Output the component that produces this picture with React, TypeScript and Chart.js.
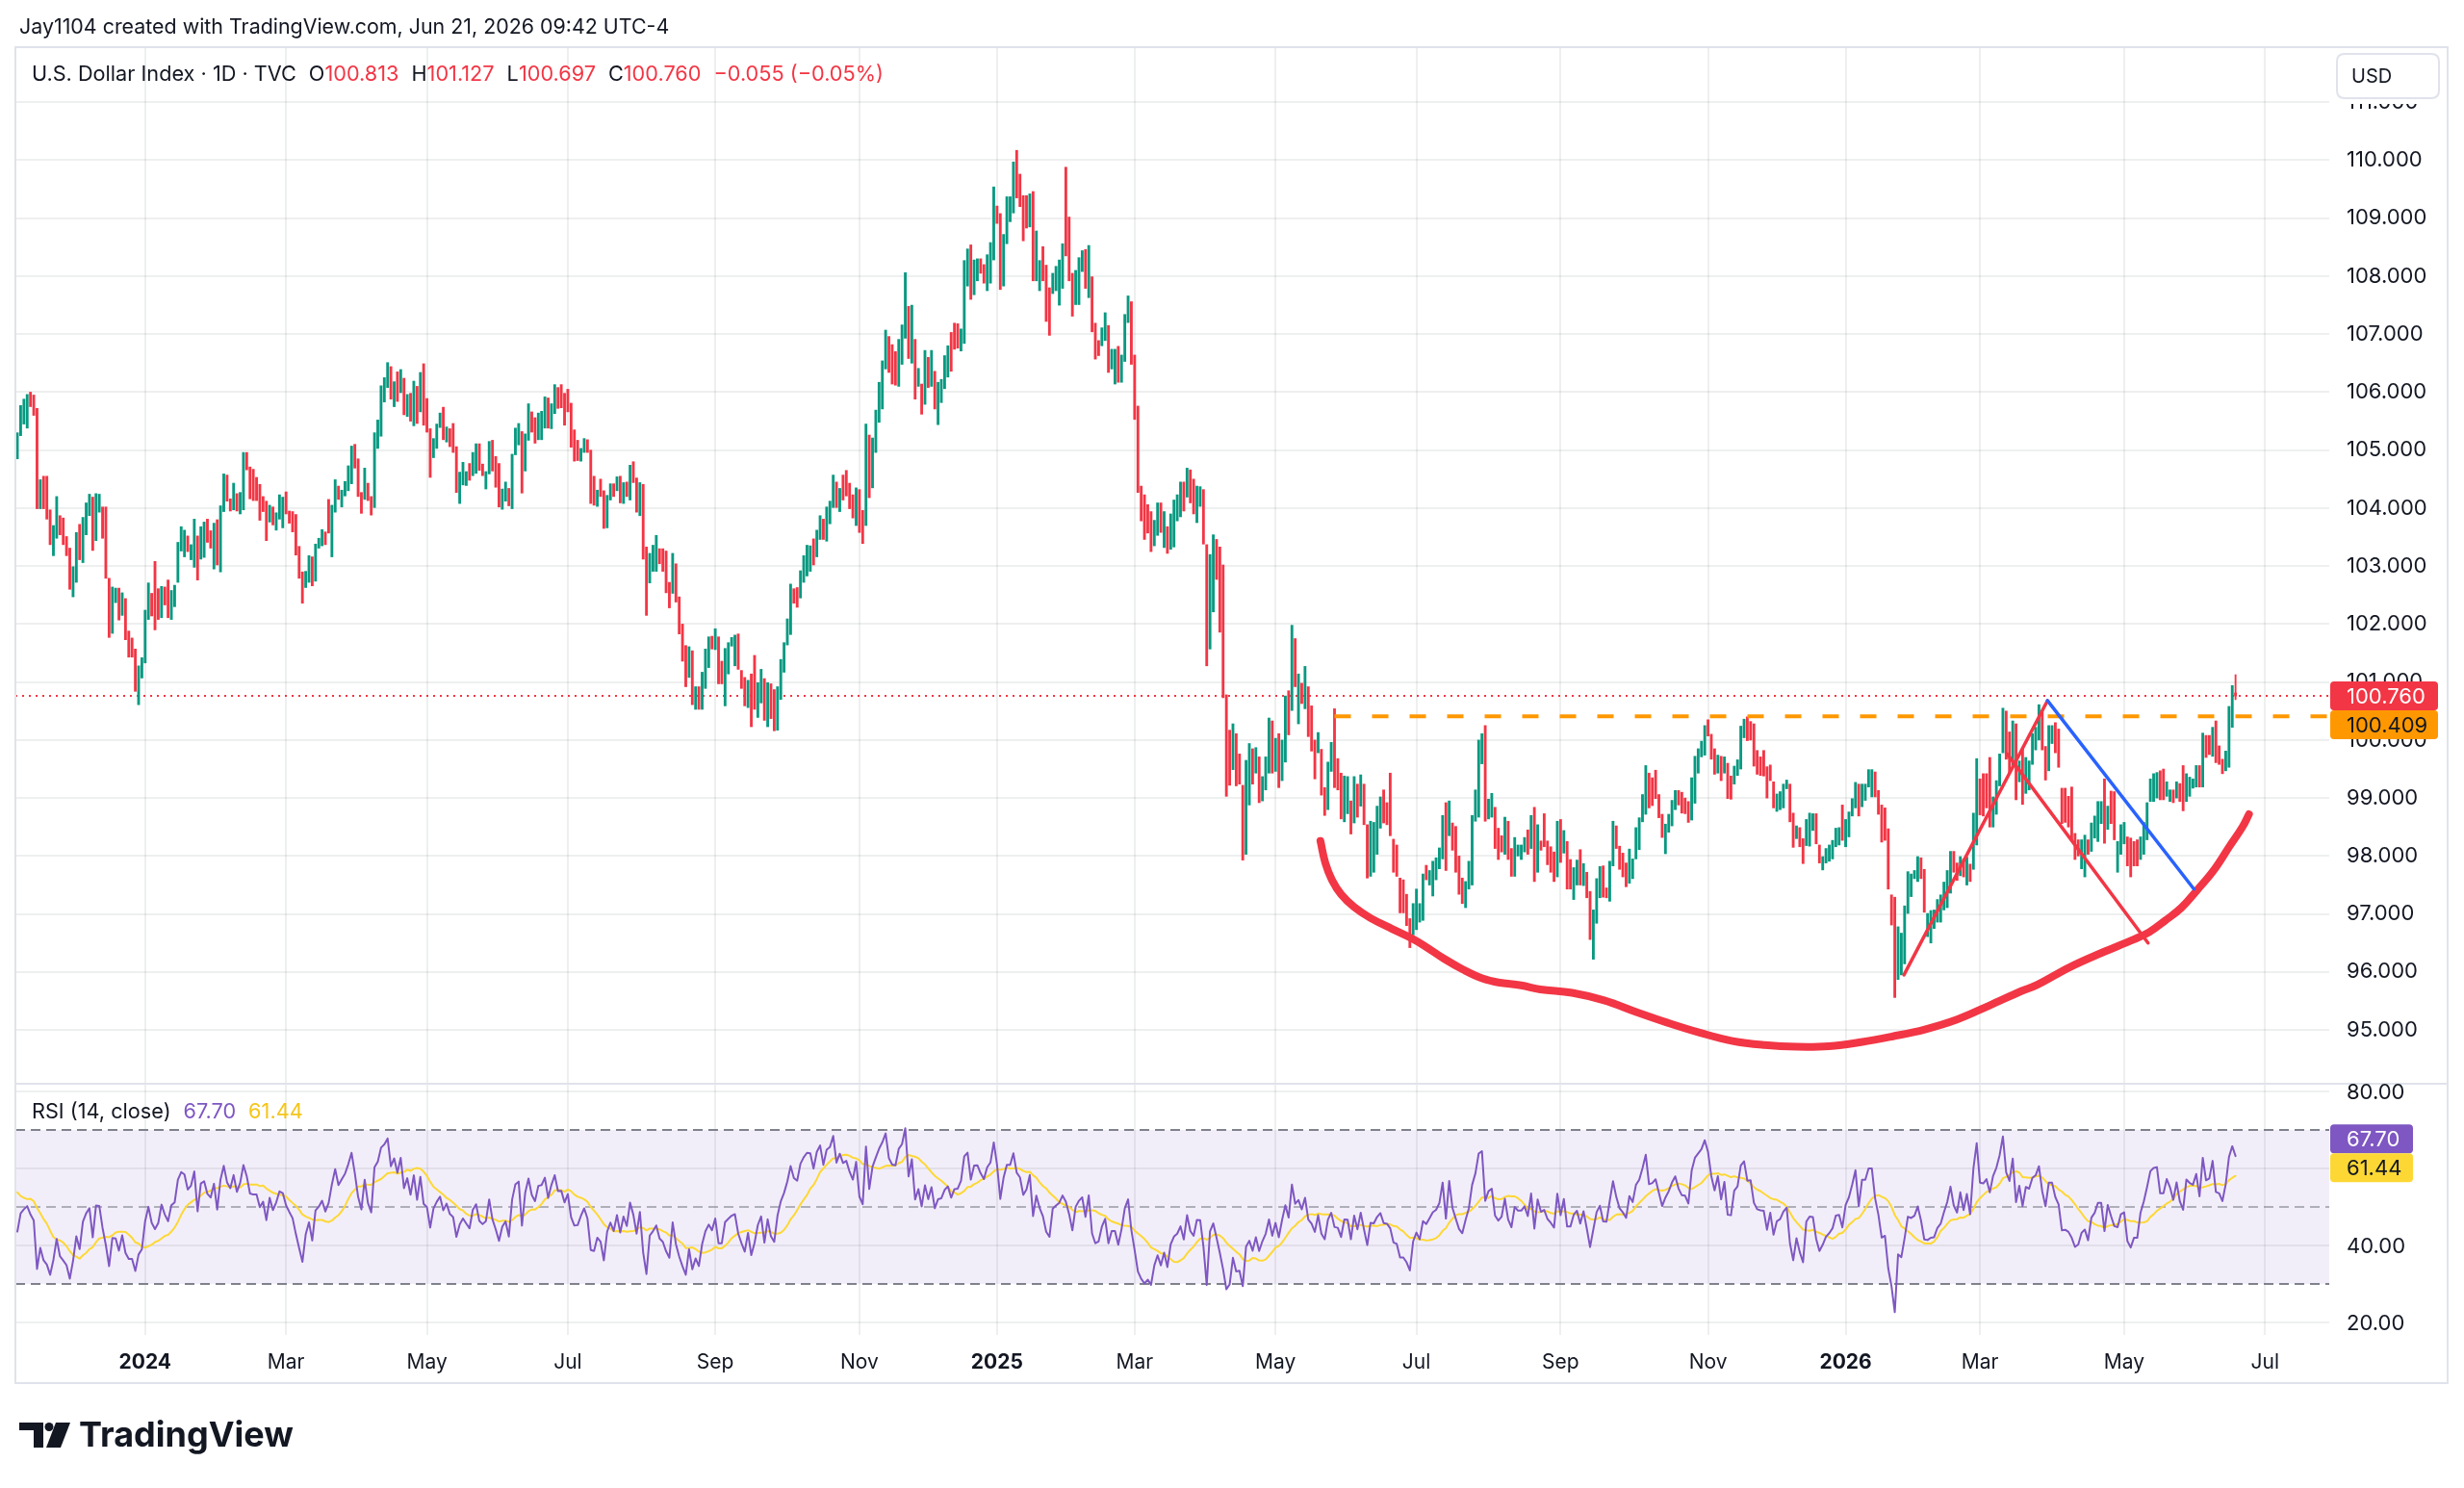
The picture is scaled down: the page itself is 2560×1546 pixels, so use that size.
import React, { useEffect, useRef } from "react";
import { Chart, registerables } from "chart.js";

Chart.register(...registerables);

// ---------- style ----------
const FONT = "Inter, 'Noto Sans', Arial, sans-serif";
const TEXT = "#131722";
const UP = "#089981";
const DOWN = "#F23645";
const ORANGE = "#FF9800";
const BLUE = "#2962FF";
const RSI_COLOR = "#7E57C2";
const RSI_MA_COLOR = "#FDD835";
const GRID = "rgba(42,46,57,0.08)";
const FRAME = "#E0E3EB";

// ---------- texts ----------
const HEADER = "Jay1104 created with TradingView.com, Jun 21, 2026 09:42 UTC-4";
const SYMBOL = "U.S. Dollar Index · 1D · TVC";
const CHANGE_TEXT = "−0.055 (−0.05%)";
const RSI_TITLE = "RSI (14, close)";
const CURRENCY = "USD";
const BRAND = "TradingView";

// ---------- calendar ----------
const START_DATE = "2023-11-06";
const HOLIDAYS = ["12-25", "01-01"];
const TICK_MONTHS = [0, 2, 4, 6, 8, 10];
const MONTH_NAMES = ["Jan", "Feb", "Mar", "Apr", "May", "Jun", "Jul", "Aug", "Sep", "Oct", "Nov", "Dec"];

// ---------- daily candles (open / close), Nov 6 2023 -> Jun 18 2026 ----------
const OPEN = [
  104.85,105.25,105.45,105.38,106.00,105.95,105.72,103.99,104.55,104.55,
  103.97,103.18,103.48,103.87,103.83,103.51,103.31,102.47,102.72,103.72,
  103.06,103.54,103.87,104.19,103.44,103.93,104.02,104.02,102.79,101.84,
  102.37,102.62,102.15,102.44,101.88,101.76,101.57,100.61,101.07,101.33,
  102.08,102.53,103.08,102.61,102.11,102.64,102.76,102.08,102.30,102.72,
  103.26,103.16,103.52,103.11,102.98,103.52,103.12,103.15,103.81,103.61,
  102.95,103.80,102.90,103.94,104.57,104.16,103.97,104.25,103.90,103.97,
  104.96,104.71,104.67,104.53,104.41,104.20,104.12,103.76,104.02,103.62,
  103.81,103.66,104.28,103.95,103.94,103.89,103.34,102.90,102.63,102.72,
  103.16,102.74,103.31,103.35,103.59,104.15,103.16,103.93,104.38,104.02,
  104.21,104.30,104.42,105.10,104.85,104.27,104.15,104.43,104.20,104.01,
  105.03,105.24,105.83,106.08,106.44,105.75,106.35,105.99,106.24,105.58,
  105.98,105.42,106.10,105.66,106.49,105.89,105.37,104.87,105.03,105.39,
  105.74,105.14,105.37,105.46,105.06,104.08,104.40,104.39,104.77,104.56,
  104.60,105.11,104.76,104.33,104.59,105.17,104.89,104.77,103.98,104.12,
  104.34,103.99,104.92,105.09,105.32,104.64,105.17,105.66,105.56,105.18,
  105.18,105.38,105.90,105.37,105.63,106.08,106.13,105.98,106.05,105.81,
  105.35,105.17,104.81,104.96,105.18,105.00,104.55,104.03,104.50,104.30,
  103.66,104.14,104.42,104.30,104.55,104.08,104.45,104.14,104.80,104.52,
  103.87,104.41,103.33,102.71,102.91,102.91,103.30,103.30,103.26,102.72,
  102.53,103.04,102.47,102.00,101.63,101.08,101.54,100.53,100.92,100.53,
  100.89,101.25,101.79,101.56,101.78,101.36,100.59,101.14,101.62,101.28,
  101.83,101.20,101.08,100.56,101.14,101.46,100.39,100.64,101.06,100.23,
  100.97,100.87,100.17,100.70,101.17,101.64,101.82,102.61,102.63,102.45,
  102.72,102.83,102.91,103.47,103.16,103.46,103.81,103.43,103.73,104.01,
  104.45,103.94,104.57,104.65,104.43,104.23,103.70,104.32,103.96,103.70,
  105.26,104.35,104.96,105.48,105.71,106.40,106.96,106.82,106.70,106.10,
  106.48,106.93,107.48,106.50,106.91,106.10,106.14,105.79,106.60,106.10,
  106.36,105.44,105.82,106.06,106.26,107.03,107.19,107.18,106.71,106.84,
  107.83,108.54,107.68,107.92,108.30,108.20,107.75,107.88,108.28,109.21,
  109.08,107.83,108.56,108.94,109.09,110.17,109.76,109.39,109.39,108.85,
  109.46,107.92,107.75,108.51,108.19,107.80,107.70,107.75,107.50,107.79,
  109.88,109.02,108.05,107.51,107.51,108.08,108.46,107.63,107.99,107.19,
  106.89,106.80,106.89,107.15,106.40,106.14,106.79,106.17,106.53,107.20,
  107.56,106.64,105.76,104.38,104.23,104.06,103.94,103.35,103.53,104.09,
  103.32,103.68,103.29,103.33,103.78,103.85,104.45,104.19,104.66,104.50,
  103.75,104.03,104.32,103.37,101.57,102.21,103.46,103.33,103.02,100.78,
  100.17,99.49,100.11,99.76,99.22,98.03,98.88,99.85,99.43,99.71,
  98.95,99.14,99.43,100.33,99.46,100.11,99.30,99.62,100.85,100.51,
  101.75,100.28,100.98,100.54,100.92,100.59,100.00,99.78,99.84,99.18,
  98.80,99.46,100.54,99.68,99.43,98.59,98.73,98.95,98.57,99.24,
  98.86,99.24,98.54,97.65,97.72,98.03,98.48,99.14,98.92,99.43,
  98.29,98.19,97.62,97.59,97.34,96.92,96.64,96.73,96.86,96.89,
  97.84,97.50,97.31,97.59,97.78,97.95,98.92,98.35,98.57,98.51,
  98.00,97.62,97.11,97.43,97.50,98.60,98.67,99.59,100.25,98.64,
  98.67,98.84,98.48,98.35,98.03,98.60,98.13,97.65,98.00,97.94,
  98.07,98.45,98.13,98.84,97.72,98.26,98.73,98.26,98.16,98.07,
  97.64,98.63,98.05,98.25,97.94,97.25,97.50,98.11,97.49,97.72,
  97.39,96.22,96.84,97.28,97.83,97.45,97.22,97.83,98.52,98.17,
  98.05,97.88,97.53,97.61,97.95,98.11,98.59,98.72,99.43,99.35,
  99.48,99.06,98.72,98.04,98.41,98.52,98.80,99.13,99.10,99.00,
  98.94,98.62,98.91,99.43,99.71,99.74,100.35,100.10,99.85,99.43,
  99.72,99.43,99.60,99.38,99.24,99.39,99.50,100.04,100.40,100.32,
  100.28,99.82,99.71,99.82,99.54,99.57,99.28,98.77,98.80,98.83,
  99.16,99.24,98.74,98.30,98.49,98.30,98.18,98.17,98.44,98.73,
  98.19,97.76,97.88,97.91,97.95,98.16,98.19,98.88,98.16,98.33,
  98.69,98.83,99.24,98.85,98.96,99.19,99.02,99.45,99.13,98.88,
  98.83,98.47,97.33,97.29,95.87,95.95,96.14,97.01,97.30,97.61,
  97.56,97.97,97.77,96.61,96.50,96.75,96.86,96.86,97.07,97.11,
  97.36,98.08,97.88,97.66,97.95,97.50,97.86,97.77,98.19,99.33,
  99.42,99.42,99.70,98.50,98.72,99.21,99.78,100.50,100.14,99.56,
  100.28,99.28,99.86,99.08,99.14,99.58,99.83,100.00,100.50,99.89,
  99.47,99.94,100.30,100.19,99.17,99.17,99.03,99.19,98.39,98.28,
  97.78,97.64,98.28,98.08,98.31,98.25,98.56,99.33,98.46,99.12,
  99.11,97.72,98.03,98.21,98.33,98.31,98.25,98.28,97.94,98.03,
  98.28,98.94,98.94,99.00,99.47,99.50,99.03,98.94,99.14,99.00,
  99.25,99.56,98.94,99.03,99.17,99.19,99.56,99.19,100.08,100.08,
  99.72,100.33,99.90,99.67,99.47,99.53,100.22,
];

const CLOSE = [
  105.30,105.77,105.88,105.96,105.75,105.60,103.99,104.49,103.99,103.81,
  103.37,103.70,104.20,103.54,103.37,103.18,102.60,102.99,103.58,103.11,
  103.84,104.09,104.24,103.27,104.25,104.24,103.48,102.79,101.77,102.64,
  102.62,102.07,102.54,101.73,101.43,101.43,100.84,101.28,101.42,102.24,
  102.71,102.14,101.90,102.08,102.65,102.33,102.11,102.58,102.67,103.41,
  103.68,103.62,103.25,103.37,103.81,102.76,103.68,103.76,103.41,103.31,
  103.74,103.02,104.04,104.59,104.12,103.95,104.43,103.95,104.27,104.96,
  104.66,104.16,104.13,104.13,103.79,103.94,103.44,104.05,103.71,103.92,
  104.23,104.19,103.90,103.74,103.59,103.19,102.79,102.36,102.91,103.18,
  102.66,103.38,103.48,103.63,103.37,103.57,104.05,104.49,104.15,104.31,
  104.46,104.73,105.07,104.69,104.20,103.91,104.69,104.13,103.88,105.30,
  105.52,106.11,106.25,106.51,105.88,106.18,105.84,106.39,105.61,105.96,
  105.50,106.19,105.46,106.34,105.43,105.31,104.53,105.20,105.45,105.64,
  105.18,105.40,105.06,104.96,104.27,104.62,104.79,104.63,104.48,104.96,
  105.11,104.65,104.56,104.63,105.15,104.64,104.36,104.02,104.33,104.45,
  104.04,104.93,105.38,105.46,104.26,105.28,105.80,105.31,105.12,105.64,
  105.67,105.92,105.38,105.80,106.13,105.72,105.73,105.43,105.66,105.05,
  104.81,104.82,105.03,105.20,104.96,104.08,104.05,104.31,104.20,103.65,
  104.22,104.42,104.20,104.54,104.09,104.44,104.20,104.74,104.44,103.93,
  104.44,103.12,102.15,103.22,103.36,103.53,103.04,102.91,102.54,102.28,
  103.22,102.38,101.83,101.36,100.92,101.61,100.61,100.92,100.53,101.17,
  101.57,101.78,101.57,101.92,100.97,100.97,101.58,101.68,101.77,101.81,
  101.22,100.89,100.59,101.03,100.23,100.53,100.99,101.22,100.34,100.99,
  100.37,100.16,100.92,101.39,101.68,102.09,102.69,102.36,102.29,102.92,
  103.18,103.36,103.35,103.02,103.62,103.87,103.46,104.02,104.12,104.57,
  104.01,104.34,104.14,104.21,103.99,103.83,104.35,103.58,103.39,105.45,
  104.18,105.21,105.69,106.17,106.54,107.07,106.34,106.14,106.12,106.91,
  107.16,108.06,106.58,107.50,105.88,106.41,105.62,106.72,106.08,106.72,
  105.71,106.17,106.22,106.63,106.80,106.36,106.74,106.76,107.09,108.27,
  108.47,107.60,108.28,108.30,108.05,107.88,108.37,108.58,109.54,108.91,
  107.77,108.72,109.37,109.37,109.97,109.35,109.20,108.61,108.83,109.42,
  107.92,108.78,108.27,107.92,107.22,106.98,108.05,108.17,108.28,108.56,
  108.35,107.92,107.31,108.10,108.32,108.44,107.79,108.53,107.04,106.57,
  106.63,107.11,107.37,106.34,106.74,106.74,106.17,106.64,107.34,107.66,
  106.48,105.53,104.27,103.78,103.46,103.57,103.25,103.79,104.09,103.58,
  103.94,103.22,103.90,104.14,104.23,104.45,103.95,104.69,104.09,103.90,
  104.38,104.37,103.38,101.28,103.20,103.54,102.77,101.86,100.73,99.03,
  99.22,100.28,99.21,99.24,97.93,99.65,99.94,99.24,99.87,98.92,
  99.37,99.71,100.38,99.43,100.03,99.18,100.00,100.76,100.09,101.98,
  100.92,101.14,100.63,101.27,100.06,99.81,99.33,100.13,99.05,98.70,
  99.62,99.96,99.18,99.14,98.64,99.38,99.37,98.38,99.37,98.67,
  99.40,98.54,97.62,98.60,98.58,98.86,99.02,98.57,98.54,98.35,
  97.72,97.65,97.02,97.02,96.80,96.42,97.18,97.43,97.18,97.69,
  97.59,97.75,97.91,97.97,98.14,98.70,97.75,98.95,98.10,97.72,
  97.34,97.18,97.56,97.91,98.70,99.14,100.00,100.11,98.60,98.98,
  99.08,98.13,97.94,98.07,98.67,97.94,97.65,98.32,98.19,98.19,
  98.32,98.03,98.70,97.56,98.54,98.10,98.16,97.85,97.72,97.56,
  98.60,97.89,98.44,97.43,97.43,97.80,97.93,97.50,97.87,97.28,
  96.56,97.07,97.61,97.82,97.29,97.28,97.91,98.60,98.13,97.77,
  97.64,97.47,98.12,97.95,98.49,98.66,99.06,99.56,98.83,98.87,
  98.99,98.66,98.32,98.55,98.72,98.96,99.13,98.88,98.74,98.73,
  98.58,99.35,99.72,99.85,99.98,100.25,100.07,99.67,99.41,99.74,
  99.30,99.71,98.99,98.98,99.55,99.66,100.24,100.36,99.99,100.00,
  99.55,99.41,99.39,99.38,99.00,99.30,98.83,99.07,99.11,99.24,
  99.31,98.59,98.15,98.52,98.16,97.87,98.63,98.74,98.73,98.21,
  97.88,97.99,98.13,98.19,98.27,98.48,98.49,98.27,98.63,98.76,
  98.99,99.27,98.69,99.24,99.24,99.49,99.49,99.02,98.72,98.24,
  98.27,97.43,96.81,95.56,96.78,96.67,97.14,97.73,97.69,97.75,
  97.99,97.61,97.03,97.01,97.06,97.07,97.25,97.33,97.55,97.75,
  98.08,97.72,97.58,97.99,97.64,97.98,97.56,98.74,99.68,98.71,
  98.69,98.83,98.50,99.02,99.30,99.76,100.55,99.67,99.44,100.33,
  98.97,99.64,98.89,99.70,99.64,100.11,100.22,100.61,99.83,99.31,
  100.25,100.25,99.78,99.53,98.56,98.58,98.50,98.28,97.94,98.00,
  98.28,98.36,98.03,98.57,98.69,98.94,98.94,98.22,98.86,98.56,
  98.28,98.25,98.54,98.58,97.83,97.64,97.83,97.83,98.33,98.58,
  98.92,99.33,99.42,99.44,98.97,98.97,99.28,99.14,98.92,99.28,
  98.94,98.78,99.42,99.36,99.33,99.56,99.19,100.12,99.70,99.75,
  100.22,99.61,99.58,99.42,99.81,100.58,100.94,
];

// last (current) daily bar, Jun 19 2026
const LAST_BAR = { o: 100.813, h: 101.127, l: 100.697, c: 100.76 };

// closes before the visible window (RSI warm-up only)
const PRE_CLOSE = [
  105.35,105.39,105.58,106.00,106.24,106.67,106.16,106.22,106.88,106.98,
  106.70,106.35,106.05,106.07,105.74,105.56,106.47,106.65,106.24,106.26,
  106.59,106.24,106.16,105.52,106.25,106.56,106.63,106.56,106.12,106.68,
  106.86,106.14,105.02,
];

// indicator settings and readouts
const RSI_LEN = 14;
const RSI_LAST = 67.7;
const RSI_MA_LAST = 61.44;
const RSI_LEVELS = [70, 50, 30];
const RSI_TICKS = [20, 40, 60, 80];
const RSI_PANE_TOP = 82;

// price axis
const PRICE_TICKS = [95, 96, 97, 98, 99, 100, 101, 102, 103, 104, 105, 106, 107, 108, 109, 110, 111];

// drawings (x = bar number, y = price)
const RESISTANCE_FROM = 402;
const RESISTANCE_PRICE = 100.409;
const CUP_CURVE: [number, number][] = [
  [397.7, 98.26], [399.2, 97.88], [401.2, 97.59], [404.0, 97.34], [408.0, 97.12],
  [413.0, 96.93], [419.7, 96.74], [425.6, 96.58], [429.5, 96.45], [435.4, 96.23],
  [441.3, 96.04], [447.1, 95.89], [452.0, 95.82], [458.9, 95.77], [464.8, 95.7],
  [474.5, 95.64], [484.3, 95.51], [494.1, 95.31], [503.9, 95.12], [513.7, 94.95],
  [523.5, 94.81], [533.3, 94.74], [543.1, 94.71], [552.9, 94.72], [562.7, 94.79],
  [572.4, 94.89], [582.2, 95.01], [592.0, 95.18], [601.8, 95.42], [611.6, 95.67],
  [616.5, 95.78], [626.3, 96.08], [636.1, 96.33], [645.9, 96.56], [650.7, 96.69],
  [655.6, 96.89], [660.5, 97.11], [665.4, 97.42], [670.3, 97.75], [675.2, 98.17],
  [679.1, 98.5], [681.1, 98.72],
];
const TREND_UP: [number, number][] = [[575.8, 95.95], [619.6, 100.68]];
const TREND_DOWN: [number, number][] = [[607.3, 99.76], [650.3, 96.5]];
const CHANNEL_BLUE: [number, number][] = [[619.6, 100.68], [664.3, 97.43]];

// visible ranges
const X_MIN = -0.6;
const X_MAX = 705.6;
const Y_MIN = 89.74;
const Y_MAX = 111.95;
const RSI_MIN = 16.75;
const RSI_MAX = 351.25;

// ---------- helpers ----------
function tradingCalendar(start: string, count: number): Date[] {
  const out: Date[] = [];
  const d = new Date(start + "T12:00:00Z");
  while (out.length < count) {
    const wd = d.getUTCDay();
    const md = String(d.getUTCMonth() + 1).padStart(2, "0") + "-" + String(d.getUTCDate()).padStart(2, "0");
    if (wd !== 0 && wd !== 6 && !HOLIDAYS.includes(md)) out.push(new Date(d.getTime()));
    d.setUTCDate(d.getUTCDate() + 1);
  }
  return out;
}

function buildTicks() {
  const dates = tradingCalendar(START_DATE, Math.ceil(X_MAX) + 5);
  const ticks: { value: number; label: string; bold: boolean }[] = [];
  for (let i = 1; i < dates.length; i++) {
    const m = dates[i].getUTCMonth();
    if (m !== dates[i - 1].getUTCMonth() && TICK_MONTHS.includes(m) && i <= X_MAX) {
      ticks.push({ value: i, label: m === 0 ? String(dates[i].getUTCFullYear()) : MONTH_NAMES[m], bold: m === 0 });
    }
  }
  return ticks;
}

function computeRsi(closes: number[], len: number): (number | null)[] {
  const out: (number | null)[] = closes.map(() => null);
  let up = 0;
  let dn = 0;
  for (let i = 1; i < closes.length; i++) {
    const ch = closes[i] - closes[i - 1];
    const g = ch > 0 ? ch : 0;
    const l = ch < 0 ? -ch : 0;
    if (i <= len) {
      up += g / len;
      dn += l / len;
    } else {
      up = (up * (len - 1) + g) / len;
      dn = (dn * (len - 1) + l) / len;
    }
    if (i >= len) out[i] = dn === 0 ? 100 : 100 - 100 / (1 + up / dn);
  }
  return out;
}

function sma(vals: (number | null)[], len: number): (number | null)[] {
  return vals.map((_, i) => {
    if (i < len - 1) return null;
    let s = 0;
    for (let k = i - len + 1; k <= i; k++) {
      const v = vals[k];
      if (v === null) return null;
      s += v;
    }
    return s / len;
  });
}

function roundRect(ctx: CanvasRenderingContext2D, x: number, y: number, w: number, h: number, r: number) {
  ctx.beginPath();
  ctx.moveTo(x + r, y);
  ctx.lineTo(x + w - r, y);
  ctx.quadraticCurveTo(x + w, y, x + w, y + r);
  ctx.lineTo(x + w, y + h - r);
  ctx.quadraticCurveTo(x + w, y + h, x + w - r, y + h);
  ctx.lineTo(x + r, y + h);
  ctx.quadraticCurveTo(x, y + h, x, y + h - r);
  ctx.lineTo(x, y + r);
  ctx.quadraticCurveTo(x, y, x + r, y);
  ctx.closePath();
}

function drawRuns(ctx: CanvasRenderingContext2D, x: number, y: number, runs: [string, string, number][]) {
  let cx = x;
  for (const [text, color, gap] of runs) {
    ctx.fillStyle = color;
    ctx.fillText(text, cx, y);
    cx += ctx.measureText(text).width + gap;
  }
}

const decorPlugin = {
  id: "tvDecor",
  beforeDraw(chart: any) {
    const ctx = chart.ctx as CanvasRenderingContext2D;
    ctx.save();
    ctx.fillStyle = "#ffffff";
    ctx.fillRect(0, 0, chart.width, chart.height);
    ctx.restore();
  },
  beforeDatasetsDraw(chart: any) {
    const ctx = chart.ctx as CanvasRenderingContext2D;
    const a = chart.chartArea;
    const r = chart.scales.rsi;
    ctx.save();
    const y70 = r.getPixelForValue(70);
    const y30 = r.getPixelForValue(30);
    ctx.fillStyle = "rgba(126,87,194,0.1)";
    ctx.fillRect(a.left, y70, a.right - a.left, y30 - y70);
    ctx.lineWidth = 2;
    ctx.setLineDash([10, 6]);
    for (const lv of RSI_LEVELS) {
      ctx.strokeStyle = lv === 50 ? "rgba(120,123,134,0.55)" : "rgba(120,123,134,0.95)";
      const yy = Math.round(r.getPixelForValue(lv));
      ctx.beginPath();
      ctx.moveTo(a.left, yy);
      ctx.lineTo(a.right, yy);
      ctx.stroke();
    }
    ctx.restore();
  },
  afterDraw(chart: any) {
    const ctx = chart.ctx as CanvasRenderingContext2D;
    const a = chart.chartArea;
    const ys = chart.scales.y;
    const r = chart.scales.rsi;
    const axisL = a.right;
    const frameR = chart.width - 17;
    const frameB = a.bottom + 50;
    ctx.save();

    // pane separator + frame
    ctx.strokeStyle = FRAME;
    ctx.lineWidth = 2;
    const sepY = Math.round(r.getPixelForValue(RSI_PANE_TOP));
    ctx.beginPath();
    ctx.moveTo(a.left, sepY);
    ctx.lineTo(frameR, sepY);
    ctx.stroke();
    ctx.strokeRect(a.left, a.top, frameR - a.left, frameB - a.top);

    // currency box at top of price scale
    ctx.fillStyle = "#ffffff";
    ctx.fillRect(axisL + 1, a.top + 1, frameR - axisL - 2, 58);
    roundRect(ctx, axisL + 8, a.top + 7, 106, 46, 8);
    ctx.fillStyle = "#ffffff";
    ctx.fill();
    ctx.strokeStyle = FRAME;
    ctx.stroke();
    ctx.fillStyle = TEXT;
    ctx.font = `20px ${FONT}`;
    ctx.textBaseline = "middle";
    ctx.textAlign = "left";
    ctx.fillText(CURRENCY, axisL + 23, a.top + 31);

    // price tags
    const tag = (yc: number, text: string, bg: string, fg: string, w: number) => {
      roundRect(ctx, axisL + 1, yc - 15, w, 30, 4);
      ctx.fillStyle = bg;
      ctx.fill();
      ctx.fillStyle = fg;
      ctx.font = `22px ${FONT}`;
      ctx.fillText(text, axisL + 18, yc + 1);
    };
    const redY = ys.getPixelForValue(LAST_BAR.c);
    tag(redY, LAST_BAR.c.toFixed(3), DOWN, "#ffffff", 112);
    const orY = Math.max(ys.getPixelForValue(RESISTANCE_PRICE), redY + 30);
    tag(orY, RESISTANCE_PRICE.toFixed(3), ORANGE, TEXT, 112);

    // RSI scale labels + tags
    ctx.font = `22px ${FONT}`;
    ctx.fillStyle = TEXT;
    for (const v of RSI_TICKS) ctx.fillText(v.toFixed(2), axisL + 18, r.getPixelForValue(v) + 1);
    const pY = r.getPixelForValue(RSI_LAST);
    tag(pY, RSI_LAST.toFixed(2), RSI_COLOR, "#ffffff", 86);
    const yY = Math.max(r.getPixelForValue(RSI_MA_LAST), pY + 30);
    tag(yY, RSI_MA_LAST.toFixed(2), RSI_MA_COLOR, TEXT, 86);

    // header
    ctx.font = `21.4px ${FONT}`;
    ctx.fillStyle = TEXT;
    ctx.fillText(HEADER, 20, 29);

    // symbol legend
    ctx.font = `21.7px ${FONT}`;
    drawRuns(ctx, a.left + 17, a.top + 28, [
      [SYMBOL, TEXT, 13],
      ["O", TEXT, 0], [LAST_BAR.o.toFixed(3), DOWN, 13],
      ["H", TEXT, 0], [LAST_BAR.h.toFixed(3), DOWN, 13],
      ["L", TEXT, 0], [LAST_BAR.l.toFixed(3), DOWN, 13],
      ["C", TEXT, 0], [LAST_BAR.c.toFixed(3), DOWN, 13],
      [CHANGE_TEXT, DOWN, 0],
    ]);

    // RSI legend
    drawRuns(ctx, a.left + 17, sepY + 29, [
      [RSI_TITLE, TEXT, 13],
      [RSI_LAST.toFixed(2), RSI_COLOR, 13],
      [RSI_MA_LAST.toFixed(2), "#F5C518", 0],
    ]);

    // brand logo
    const ly = frameB + 41;
    ctx.fillStyle = TEXT;
    ctx.fillRect(20, ly, 25, 8);
    ctx.fillRect(35, ly, 10, 26);
    ctx.beginPath();
    ctx.arc(51, ly + 4.5, 4.5, 0, Math.PI * 2);
    ctx.fill();
    ctx.beginPath();
    ctx.moveTo(58, ly);
    ctx.lineTo(73, ly);
    ctx.lineTo(63, ly + 26);
    ctx.lineTo(48, ly + 26);
    ctx.closePath();
    ctx.fill();
    ctx.font = `bold 36px ${FONT}`;
    ctx.fillText(BRAND, 82, ly + 14);

    ctx.restore();
  },
};

function makeConfig(): any {
  const n = Math.min(OPEN.length, CLOSE.length);
  const lastIdx = n;
  const bars = [] as { x: number; y: [number, number] }[];
  for (let i = 0; i < n; i++) bars.push({ x: i, y: [OPEN[i], CLOSE[i]] });
  bars.push({ x: lastIdx, y: [LAST_BAR.o, LAST_BAR.c] });

  const allCloses = [...PRE_CLOSE, ...CLOSE.slice(0, n), LAST_BAR.c];
  const rsiAll = computeRsi(allCloses, RSI_LEN);
  const maAll = sma(rsiAll, RSI_LEN);
  const off = PRE_CLOSE.length;
  const rsiData = [] as { x: number; y: number | null }[];
  const maData = [] as { x: number; y: number | null }[];
  for (let i = 0; i <= lastIdx; i++) {
    rsiData.push({ x: i, y: rsiAll[i + off] });
    maData.push({ x: i, y: maAll[i + off] });
  }

  const ticks = buildTicks();
  const labelOf = new Map(ticks.map((t) => [t.value, t]));
  const pts = (arr: [number, number][]) => arr.map(([x, y]) => ({ x, y }));
  const lineBase = { type: "line", yAxisID: "y", pointRadius: 0, fill: false, borderCapStyle: "round", borderJoinStyle: "round" };

  return {
    type: "bar",
    data: {
      datasets: [
        {
          ...lineBase,
          data: [{ x: X_MIN, y: LAST_BAR.c }, { x: X_MAX, y: LAST_BAR.c }],
          borderColor: DOWN,
          borderWidth: 2,
          borderDash: [2, 5],
          borderCapStyle: "butt",
          order: 20,
        },
        {
          type: "bar",
          yAxisID: "y",
          data: [{ x: lastIdx, y: [LAST_BAR.l, LAST_BAR.h] }],
          backgroundColor: DOWN,
          barThickness: 1.2,
          grouped: false,
          order: 11,
        },
        {
          type: "bar",
          yAxisID: "y",
          data: bars,
          backgroundColor: (c: any) => {
            const v = c.raw;
            return v && v.y && v.y[1] >= v.y[0] ? UP : DOWN;
          },
          borderWidth: 0,
          barThickness: 2.2,
          grouped: false,
          order: 10,
        },
        {
          ...lineBase,
          data: [{ x: RESISTANCE_FROM, y: RESISTANCE_PRICE }, { x: X_MAX, y: RESISTANCE_PRICE }],
          borderColor: ORANGE,
          borderWidth: 4,
          borderDash: [17, 22],
          borderCapStyle: "butt",
          order: 3,
        },
        { ...lineBase, data: pts(CUP_CURVE), borderColor: DOWN, borderWidth: 8, tension: 0.4, order: 2 },
        { ...lineBase, data: pts(TREND_UP), borderColor: DOWN, borderWidth: 3.5, order: 2 },
        { ...lineBase, data: pts(TREND_DOWN), borderColor: DOWN, borderWidth: 3.5, order: 2 },
        { ...lineBase, data: pts(CHANNEL_BLUE), borderColor: BLUE, borderWidth: 3.5, order: 1 },
        { ...lineBase, yAxisID: "rsi", data: maData, borderColor: RSI_MA_COLOR, borderWidth: 2, order: 1 },
        { ...lineBase, yAxisID: "rsi", data: rsiData, borderColor: RSI_COLOR, borderWidth: 2, order: 0 },
      ],
    },
    options: {
      responsive: false,
      devicePixelRatio: 1,
      animation: false,
      events: [],
      layout: { padding: { left: 16, top: 49, right: 17, bottom: 109 } },
      plugins: { legend: { display: false }, tooltip: { enabled: false }, title: { display: false } },
      scales: {
        x: {
          type: "linear",
          min: X_MIN,
          max: X_MAX,
          offset: false,
          grid: { color: GRID, lineWidth: 2, drawTicks: false, offset: false },
          border: { display: false },
          afterBuildTicks: (s: any) => {
            s.ticks = ticks.map((t) => ({ value: t.value }));
          },
          afterFit: (s: any) => {
            s.height = 50;
          },
          ticks: {
            autoSkip: false,
            maxRotation: 0,
            minRotation: 0,
            padding: 16,
            color: TEXT,
            font: (c: any) => ({
              family: FONT,
              size: 21,
              weight: c.tick && labelOf.get(c.tick.value)?.bold ? "bold" : "normal",
            }),
            callback: (v: any) => labelOf.get(v)?.label ?? "",
          },
        },
        y: {
          type: "linear",
          position: "right",
          weight: 0,
          min: Y_MIN,
          max: Y_MAX,
          grid: { color: GRID, lineWidth: 2, drawTicks: false },
          border: { display: false },
          afterBuildTicks: (s: any) => {
            s.ticks = PRICE_TICKS.map((v) => ({ value: v }));
          },
          afterFit: (s: any) => {
            s.width = 123;
          },
          ticks: {
            padding: 18,
            color: TEXT,
            font: { family: FONT, size: 22 },
            callback: (v: any) => Number(v).toFixed(3),
          },
        },
        rsi: {
          type: "linear",
          position: "right",
          weight: 1,
          min: RSI_MIN,
          max: RSI_MAX,
          grid: { color: GRID, lineWidth: 2, drawTicks: false },
          border: { display: false },
          afterBuildTicks: (s: any) => {
            s.ticks = RSI_TICKS.map((v) => ({ value: v }));
          },
          afterFit: (s: any) => {
            s.width = 0;
          },
          ticks: { display: false },
        },
      },
    },
    plugins: [decorPlugin],
  };
}

export default function App() {
  const ref = useRef<HTMLCanvasElement>(null);
  useEffect(() => {
    let chart: Chart | null = null;
    let cancelled = false;
    const build = () => {
      if (cancelled || !ref.current) return;
      chart = new Chart(ref.current, makeConfig());
    };
    const fonts: any = (document as any).fonts;
    if (fonts && fonts.load) {
      Promise.all([fonts.load(`21px Inter`), fonts.load(`bold 21px Inter`)]).then(build, build);
    } else {
      build();
    }
    return () => {
      cancelled = true;
      if (chart) chart.destroy();
    };
  }, []);
  return (
    <div style={{ position: "absolute", left: 0, top: 0, width: 2560, height: 1546, background: "#ffffff" }}>
      <canvas ref={ref} width={2560} height={1546} style={{ width: 2560, height: 1546, display: "block" }} />
    </div>
  );
}
